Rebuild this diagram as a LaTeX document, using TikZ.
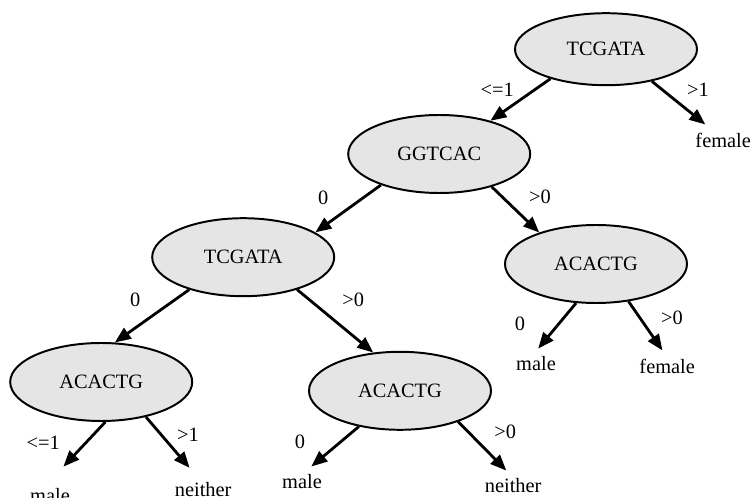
\documentclass[tikz,border=0pt]{standalone}
\usepackage{fontspec}
\setmainfont{Liberation Serif}
\usetikzlibrary{shapes.geometric, arrows.meta}
\tikzstyle{split}=[ellipse, fill=gray!20, draw=black, line width=1.4pt, minimum width=4.55cm, minimum height=1.95cm, inner sep=0pt]
\tikzstyle{leaf}=[inner sep=0.2cm]
\tikzstyle{cond}=[inner sep=1pt]
\tikzstyle{branch}=[-{Triangle[length=0.4cm, width=0.32cm]}, line width=2pt]

\begin{document}
\begin{tikzpicture}[every node/.style={font=\fontsize{14.5pt}{17pt}\selectfont}]
		\useasboundingbox (0, 0) rectangle (18.9, -12.45);

		\node [style=split, minimum height=1.8cm] (1) at (15.15, -1.23) {TCGATA};
		\node [style=split] (2) at (10.98, -3.85) {GGTCAC};
		\node [style=leaf] (3) at (18.08, -3.5) {female};
		\node [style=split] (4) at (6.08, -6.43) {TCGATA};
		\node [style=split] (5) at (14.9, -6.6) {ACACTG};
		\node [style=split] (6) at (2.53, -9.55) {ACACTG};
		\node [style=split] (7) at (10, -9.77) {ACACTG};
		\node [style=leaf] (8) at (13.4, -9.1) {male};
		\node [style=leaf] (9) at (16.68, -9.15) {female};
		\node [style=leaf] (10) at (1.25, -12.38) {male};
		\node [style=leaf] (11) at (5.08, -12.25) {neither};
		\node [style=leaf] (12) at (7.55, -12.05) {male};
		\node [style=leaf] (13) at (12.83, -12.15) {neither};

		\node [style=cond] (21) at (12.43, -2.25) {<=1};
		\node [style=cond] (22) at (17.45, -2.25) {>1};
		\node [style=cond] (23) at (8.08, -4.95) {0};
		\node [style=cond] (24) at (13.5, -4.93) {>0};
		\node [style=cond] (25) at (3.38, -7.5) {0};
		\node [style=cond] (26) at (8.83, -7.5) {>0};
		\node [style=cond] (27) at (13, -8.1) {0};
		\node [style=cond] (28) at (16.8, -7.95) {>0};
		\node [style=cond] (29) at (1.08, -11.08) {<=1};
		\node [style=cond] (30) at (4.7, -10.88) {>1};
		\node [style=cond] (31) at (7.5, -11.05) {0};
		\node [style=cond] (32) at (12.63, -10.8) {>0};

		\draw [style=branch] (1.208) to (2.33);
		\draw [style=branch] (1.-35) to (3.139);
		\draw [style=branch] (2.208) to (4.19);
		\draw [style=branch] (2.-32) to (5.151);
		\draw [style=branch] (4.211) to (6.71);
		\draw [style=branch] (4.-31) to (7.125);
		\draw [style=branch] (5.243) to (8.82);
		\draw [style=branch] (5.-49) to (9.107);
		\draw [style=branch, shorten >=0.45cm] (6.-84) to (10.86);
		\draw [style=branch, shorten >=0.22cm] (6.-38) to (11.117);
		\draw [style=branch] (7.221) to (12.59);
		\draw [style=branch] (7.-28) to (13.114);
	\end{tikzpicture}
\end{document}
